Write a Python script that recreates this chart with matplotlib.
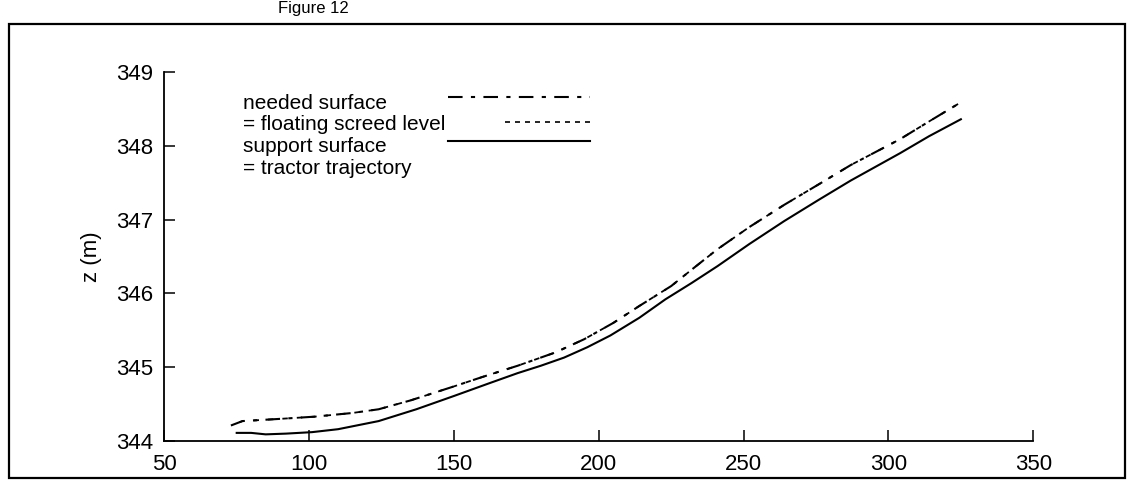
import numpy as np
import matplotlib
matplotlib.use("Agg")
import matplotlib.pyplot as plt
from matplotlib.patches import Rectangle

plt.rcParams['font.family'] = ['Liberation Sans', 'DejaVu Sans']

# needed surface (= floating screed level)
needed_x = [73, 77, 90, 102, 115, 124, 135, 150, 160, 172, 185, 195, 205, 214,
            225, 232, 241, 252, 264, 276, 287, 304, 314, 325]
needed_z = [344.21, 344.27, 344.30, 344.33, 344.38, 344.43, 344.55, 344.74, 344.87,
            345.02, 345.20, 345.38, 345.60, 345.83, 346.10, 346.32, 346.60, 346.90,
            347.20, 347.48, 347.74, 348.09, 348.33, 348.59]
screed_z = needed_z

# support surface (= tractor trajectory)
support_x = [75, 80, 85, 92, 101, 110, 124, 137, 150, 162, 172, 180, 188, 196, 204,
             214, 223, 232, 241, 252, 264, 276, 287, 304, 314, 325]
support_z = [344.11, 344.11, 344.09, 344.10, 344.12, 344.16, 344.27, 344.43, 344.61,
             344.78, 344.92, 345.02, 345.13, 345.27, 345.43, 345.67, 345.92, 346.14,
             346.37, 346.67, 346.98, 347.27, 347.53, 347.90, 348.13, 348.36]

xticks = [50, 100, 150, 200, 250, 300, 350]
yticks = [344, 345, 346, 347, 348, 349]
legend_lines = ["needed surface", "= floating screed level", "support surface", "= tractor trajectory"]


def main():
    fig = plt.figure(figsize=(11.33, 4.90), dpi=100)
    ax = fig.add_axes([0.145, 0.100, 0.767, 0.753])

    dashdot = (0, (7, 4, 2, 4))
    ax.plot(needed_x, needed_z, color='black', linestyle=dashdot, linewidth=1.5)
    ax.plot(needed_x, screed_z, color='black', linestyle=(3, (3, 5)), linewidth=1.3)
    ax.plot(support_x, support_z, color='black', linestyle='-', linewidth=1.5)

    ax.set_xlim(50, 350)
    ax.set_ylim(344, 349)
    ax.set_xticks(xticks)
    ax.set_yticks(yticks)
    ax.spines['top'].set_visible(False)
    ax.spines['right'].set_visible(False)
    for s in ('left', 'bottom'):
        ax.spines[s].set_linewidth(1.3)
    ax.tick_params(direction='in', length=8, width=1.1, labelsize=16, pad=8)
    ax.tick_params(axis='x', pad=9)
    ax.set_ylabel("z (m)", fontsize=16, labelpad=10)

    # hand-made legend, text on the left, samples on the right
    ty = [0.915, 0.859, 0.797, 0.738]
    for t, y in zip(legend_lines, ty):
        ax.text(0.091, y, t, transform=ax.transAxes, fontsize=15, va='center', ha='left')
    ax.plot([0.326, 0.49], [0.932, 0.932], transform=ax.transAxes, color='black',
            linestyle=dashdot, linewidth=1.5)
    ax.plot([0.392, 0.49], [0.864, 0.864], transform=ax.transAxes, color='black',
            linestyle=(0, (3, 3)), linewidth=1.2)
    ax.plot([0.326, 0.49], [0.8125, 0.8125], transform=ax.transAxes, color='black',
            linestyle='-', linewidth=1.5)

    # scanned page frame and caption
    fig.patches.append(Rectangle((0.008, 0.024), 0.985, 0.927, transform=fig.transFigure,
                                 fill=False, edgecolor='black', linewidth=1.6))
    fig.text(0.245, 0.998, "Figure 12", fontsize=12, va='top', ha='left')

    fig.savefig("out.png", dpi=100)


if __name__ == "__main__":
    main()
